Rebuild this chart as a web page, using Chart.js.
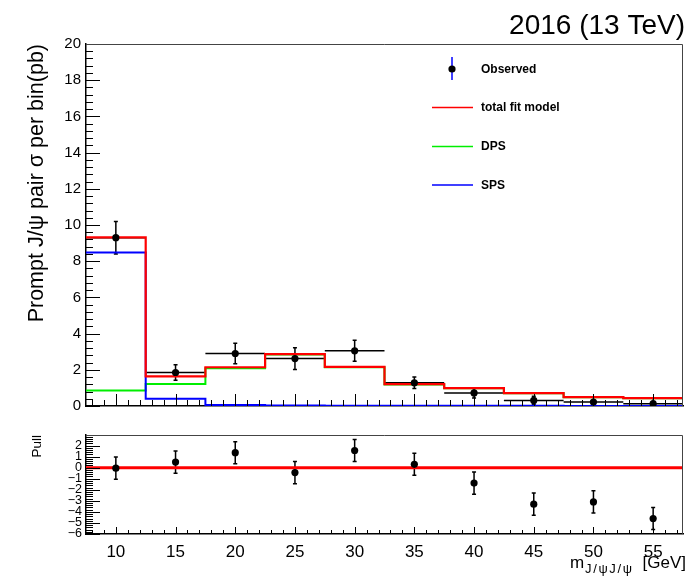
<!DOCTYPE html>
<html><head><meta charset="utf-8">
<script src="https://cdn.jsdelivr.net/npm/chart.js@4.4.0/dist/chart.umd.min.js"></script>
<style>
html,body{margin:0;padding:0;background:#fff;}
#wrap{position:relative;width:687px;height:578px;background:#fff;}
#c1{position:absolute;left:0;top:0;}
#c2{position:absolute;left:0;top:420px;}
</style></head><body>
<div id="wrap"><canvas id="c1" width="687" height="420"></canvas><canvas id="c2" width="687" height="158"></canvas></div>
<script>
// ---- data ----
const binEdges = [7.5,12.5,17.5,22.5,27.5,32.5,37.5,42.5,47.5,52.5,57.5];
const binCenters = [10,15,20,25,30,35,40,45,50,55];
const observed = [9.30,1.85,2.90,2.62,3.05,1.28,0.72,0.31,0.22,0.13];
const observedErr = [0.90,0.43,0.57,0.60,0.58,0.32,0.28,0.23,0.26,0.30];
const totalFit = [9.32,1.64,2.14,2.87,2.16,1.21,0.99,0.71,0.49,0.44];
const dps = [0.86,1.22,2.08,2.84,2.14,1.19,0.98,0.70,0.48,0.43];
const sps = [8.48,0.40,0.05,0.03,0.02,0.01,0.01,0.01,0.005,0.005];
const pull = [-0.05,0.50,1.35,-0.45,1.55,0.30,-1.40,-3.30,-3.10,-4.60];
const pullErr = [1,1,1,1,1,1,1,1,1,1];
const xTickValues = [10,15,20,25,30,35,40,45,50,55];
const yTickValuesTop = [0,2,4,6,8,10,12,14,16,18,20];
const yTickValuesPull = [-6,-5,-4,-3,-2,-1,0,1,2];
const titleText = '2016 (13 TeV)';
const yTitleTop = 'Prompt J/\u03c8 pair \u03c3 per bin(pb)';
const yTitlePull = 'Pull';

const FONT = "'Liberation Sans', Arial, Helvetica, sans-serif";

function stepPoints(edges, vals){
  const pts = vals.map((v,i)=>({x:edges[i], y:v}));
  pts.push({x:edges[edges.length-1], y:vals[vals.length-1]});
  return pts;
}
const halfWidths = binCenters.map((c,i)=>(binEdges[i+1]-binEdges[i])/2);

// ---- plugins ----
const frameTicks = {
  id:'frameTicks',
  afterDatasetsDraw(chart, args, o){
    const {ctx, chartArea:a, scales:{x,y}} = chart;
    ctx.save();
    ctx.strokeStyle = '#000';
    ctx.lineWidth = 1;
    ctx.beginPath();
    const ny = Math.round((o.yMax - o.yMin)/o.yStep);
    for(let i=0;i<=ny;i++){
      const v = o.yMin + i*o.yStep;
      const py = Math.round(y.getPixelForValue(v))+0.5;
      const len = (i % o.yEvery === 0) ? o.yMajor : o.yMinor;
      ctx.moveTo(a.left, py); ctx.lineTo(a.left+len, py);
    }
    const nx = Math.round((o.xMax - o.xMin)/o.xStep);
    for(let i=0;i<=nx;i++){
      const v = o.xMin + i*o.xStep;
      const px = Math.round(x.getPixelForValue(v))+0.5;
      const len = (v % 5 === 0) ? o.xMajor : o.xMinor;
      ctx.moveTo(px, a.bottom); ctx.lineTo(px, a.bottom-len);
    }
    ctx.stroke();
    ctx.strokeStyle = '#444';
    ctx.lineWidth = 1;
    ctx.beginPath();
    ctx.moveTo(a.left, a.top+0.5); ctx.lineTo(a.right-0.5, a.top+0.5); ctx.lineTo(a.right-0.5, a.bottom);
    ctx.stroke();
    ctx.restore();
  }
};

const errorBars = {
  id:'errorBars',
  beforeDatasetsDraw(chart, args, o){
    const {ctx, chartArea:a, scales:{x,y}} = chart;
    const ds = chart.data.datasets[o.index];
    ctx.save();
    ctx.beginPath(); ctx.rect(a.left, a.top, a.right-a.left, a.bottom-a.top); ctx.clip();
    ctx.strokeStyle = '#000';
    ctx.lineWidth = 1.5;
    ds.data.forEach((p,i)=>{
      const px = x.getPixelForValue(p.x);
      const e = ds.errY[i];
      const y1 = y.getPixelForValue(p.y + e), y2 = y.getPixelForValue(p.y - e);
      ctx.beginPath();
      ctx.moveTo(px, y1); ctx.lineTo(px, y2);
      ctx.moveTo(px-2, y1); ctx.lineTo(px+2, y1);
      ctx.moveTo(px-2, y2); ctx.lineTo(px+2, y2);
      if (ds.errX){
        const py = y.getPixelForValue(p.y);
        ctx.moveTo(x.getPixelForValue(p.x - ds.errX[i]), py);
        ctx.lineTo(x.getPixelForValue(p.x + ds.errX[i]), py);
      }
      ctx.stroke();
    });
    ctx.restore();
  }
};

const topDecor = {
  id:'topDecor',
  afterDraw(chart){
    const {ctx} = chart;
    ctx.save();
    ctx.fillStyle = '#000';
    ctx.font = '28px ' + FONT;
    ctx.textAlign = 'right';
    ctx.textBaseline = 'alphabetic';
    ctx.fillText(titleText, 685, 34);
    const ds = chart.data.datasets;
    const items = [0,1,2,3];
    const lx0 = 432, lx1 = 473, tx = 481;
    const rows = [69, 107.5, 146.5, 185];
    ctx.font = 'bold 12px ' + FONT;
    ctx.textAlign = 'left';
    ctx.textBaseline = 'middle';
    items.forEach((k,j)=>{
      const d = ds[k];
      const ry = rows[j];
      if (k === 0){
        ctx.strokeStyle = '#0000ff'; ctx.lineWidth = 1.5;
        ctx.beginPath(); ctx.moveTo(452, ry-12); ctx.lineTo(452, ry+11); ctx.stroke();
        ctx.fillStyle = '#000';
        ctx.beginPath(); ctx.arc(452, ry, 3.6, 0, Math.PI*2); ctx.fill();
      } else {
        ctx.strokeStyle = d.borderColor; ctx.lineWidth = 1.5;
        ctx.beginPath(); ctx.moveTo(lx0, ry); ctx.lineTo(lx1, ry); ctx.stroke();
      }
      ctx.fillStyle = '#000';
      ctx.fillText(d.label, tx, ry+0.5);
    });
    ctx.restore();
  }
};

const bottomDecor = {
  id:'bottomDecor',
  afterDraw(chart){
    const {ctx} = chart;
    ctx.save();
    ctx.fillStyle = '#000';
    ctx.textBaseline = 'alphabetic';
    const fMain = '17px ' + FONT, fSub = '13px ' + FONT;
    const base = 148;
    ctx.font = fMain; ctx.textAlign = 'right';
    ctx.fillText('[GeV]', 686, base);
    ctx.textAlign = 'left';
    ctx.fillText('m', 570, base);
    ctx.font = fSub;
    const sub = 'J/\u03c8J/\u03c8';
    const ws = ctx.measureText(sub).width;
    // spread subscript to span between the 'm' and the bracket
    const span = 632 - 585;
    const spacing = (span - ws) / (sub.length - 1);
    let cx = 585;
    for (const ch of sub){ ctx.fillText(ch, cx, base + 5); cx += ctx.measureText(ch).width + spacing; }
    ctx.restore();
  }
};

Chart.defaults.font.family = FONT;
Chart.defaults.color = '#000';

// ---- top chart ----
new Chart(document.getElementById('c1'), {
  type:'line',
  data:{ datasets:[
    { type:'scatter', label:'Observed', data: binCenters.map((c,i)=>({x:c, y:observed[i]})),
      errY: observedErr, errX: halfWidths,
      pointRadius:3.6, pointBackgroundColor:'#000', pointBorderWidth:0, showLine:false, order:0 },
    { label:'total fit model', data: stepPoints(binEdges, totalFit), stepped:'before',
      borderColor:'#ff0000', borderWidth:2.2, pointRadius:0, fill:false, order:1 },
    { label:'DPS', data: stepPoints(binEdges, dps), stepped:'before',
      borderColor:'#00ee00', borderWidth:2, pointRadius:0, fill:false, order:3 },
    { label:'SPS', data: stepPoints(binEdges, sps), stepped:'before',
      borderColor:'#0000ff', borderWidth:2, pointRadius:0, fill:false, order:2 }
  ]},
  options:{
    responsive:false, animation:false, devicePixelRatio:1,
    layout:{padding:{top:44, right:1, left:0, bottom:0}},
    plugins:{ legend:{display:false}, tooltip:{enabled:false},
      frameTicks:{yMin:0, yMax:20, yStep:0.4, yEvery:5, yMajor:14, yMinor:7, xMin:8, xMax:57, xStep:1, xMajor:12, xMinor:6},
      errorBars:{index:0} },
    scales:{
      x:{ type:'linear', min:7.5, max:57.5,
        afterBuildTicks:s=>{ s.ticks = xTickValues.map(v=>({value:v})); },
        ticks:{display:false},
        grid:{display:true, drawOnChartArea:false, drawTicks:false},
        border:{display:true, color:'#000', width:1.5},
        afterFit:s=>{ s.height = 11; } },
      y:{ type:'linear', min:0, max:20,
        afterBuildTicks:s=>{ s.ticks = yTickValuesTop.map(v=>({value:v})); },
        ticks:{ font:{size:15}, color:'#000', padding:5 },
        grid:{display:true, drawOnChartArea:false, drawTicks:false},
        border:{display:true, color:'#000', width:1.5},
        title:{ display:true, text:yTitleTop, align:'end', color:'#000', font:{size:21.5}, padding:{top:24, bottom:0} },
        afterFit:s=>{ s.width = 86; } }
    }
  },
  plugins:[errorBars, frameTicks, topDecor]
});

// ---- pull chart ----
new Chart(document.getElementById('c2'), {
  type:'line',
  data:{ datasets:[
    { type:'scatter', label:'Pull', data: binCenters.map((c,i)=>({x:c, y:pull[i]})),
      errY: pullErr,
      pointRadius:3.6, pointBackgroundColor:'#000', pointBorderWidth:0, showLine:false, order:0 },
    { label:'zero', data:[{x:binEdges[0], y:0},{x:binEdges[binEdges.length-1], y:0}],
      borderColor:'#ff0000', borderWidth:3, pointRadius:0, fill:false, order:1 }
  ]},
  options:{
    responsive:false, animation:false, devicePixelRatio:1,
    layout:{padding:{top:15, right:1, left:0, bottom:0}},
    plugins:{ legend:{display:false}, tooltip:{enabled:false},
      frameTicks:{yMin:-6, yMax:2.8, yStep:0.2, yEvery:5, yMajor:14, yMinor:7, xMin:8, xMax:57, xStep:1, xMajor:7, xMinor:4},
      errorBars:{index:0} },
    scales:{
      x:{ type:'linear', min:7.5, max:57.5,
        afterBuildTicks:s=>{ s.ticks = xTickValues.map(v=>({value:v})); },
        ticks:{ font:{size:17}, color:'#000', padding:8, maxRotation:0 },
        grid:{display:true, drawOnChartArea:false, drawTicks:false},
        border:{display:true, color:'#000', width:1.5},
        afterFit:s=>{ s.height = 44; } },
      y:{ type:'linear', min:-6, max:2.95,
        afterBuildTicks:s=>{ s.ticks = yTickValuesPull.map(v=>({value:v})); },
        ticks:{ font:{size:12.5}, color:'#000', padding:4, autoSkip:false,
          callback:v=> v<0 ? '\u2212'+Math.abs(v) : String(v) },
        grid:{display:true, drawOnChartArea:false, drawTicks:false},
        border:{display:true, color:'#000', width:1.5},
        title:{ display:true, text:yTitlePull, align:'end', color:'#000', font:{size:13.5}, padding:{top:29, bottom:0} },
        afterFit:s=>{ s.width = 86; } }
    }
  },
  plugins:[errorBars, frameTicks, bottomDecor]
});
</script>
</body></html>
